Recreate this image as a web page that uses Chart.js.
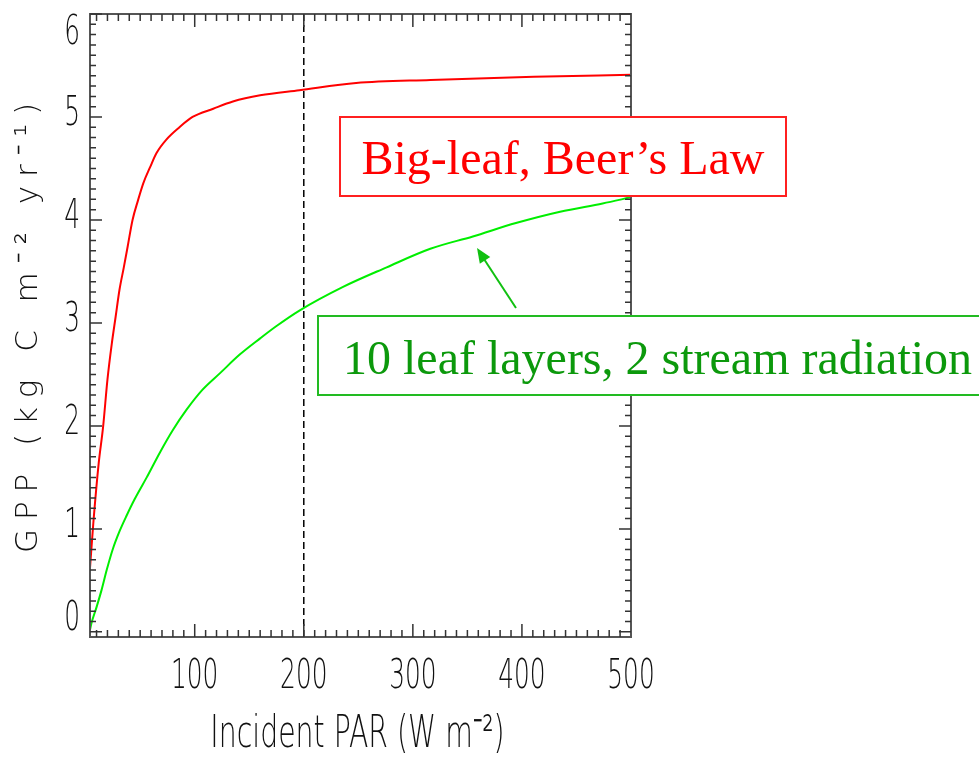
<!DOCTYPE html>
<html>
<head>
<meta charset="utf-8">
<script src="https://cdn.jsdelivr.net/npm/chart.js@4.4.1/dist/chart.umd.min.js"></script>
<style>
  body { margin: 0; background: #fff; }
  #chart { display: block; }
</style>
</head>
<body>
<canvas id="chart" width="979" height="759"></canvas>
<script>
// data
var bigLeafPar = [4, 7, 12, 16, 20, 24, 27.5, 31, 35, 38.5, 43, 48, 53, 59, 65, 74, 86, 98, 117, 135, 160, 196, 248, 316, 411, 500];
var bigLeafGpp = [0.62, 1.05, 1.64, 1.99, 2.45, 2.8, 3.06, 3.32, 3.54, 3.74, 4.0, 4.19, 4.36, 4.51, 4.65, 4.78, 4.9, 5.0, 5.08, 5.15, 5.21, 5.26, 5.33, 5.36, 5.39, 5.41];
var layersPar = [4, 5.5, 10, 14.7, 19.3, 24.8, 31.2, 37.6, 45, 56, 68, 80, 92.7, 107, 123, 141, 160, 175, 196, 236, 276, 316, 355, 394.5, 435, 474, 500];
var layersGpp = [0.02, 0.09, 0.24, 0.41, 0.6, 0.8, 0.98, 1.13, 1.29, 1.5, 1.74, 1.96, 2.16, 2.35, 2.51, 2.69, 2.85, 2.97, 3.12, 3.35, 3.54, 3.72, 3.84, 3.97, 4.08, 4.16, 4.22];
var refPar = 200;
var xTicks = [100, 200, 300, 400, 500];
var yTicks = [0, 1, 2, 3, 4, 5, 6];
var xMin = 4, xMax = 500, yMin = -0.05, yMax = 6;

var bigLeafLabel = 'Big-leaf, Beer\u2019s Law';
var layersLabel = '10 leaf layers, 2 stream radiation';
var xTitle = 'Incident PAR (W m\u207B\u00B2)';
var yTitle = 'GPP (kg C m\u207B\u00B2 yr\u207B\u00B9)';

var axisFont = "'DejaVu Sans', sans-serif";

function toPoints(xs, ys) {
  var pts = [];
  for (var i = 0; i < xs.length; i++) {
    pts.push({x: xs[i], y: ys[i]});
  }
  return pts;
}

// narrow text, the old plot used a thin condensed vector font
function narrowText(ctx, text, x, y, align, squeeze) {
  ctx.save();
  ctx.translate(x, y);
  ctx.scale(squeeze, 1);
  ctx.textAlign = align;
  ctx.fillText(text, 0, 0);
  ctx.restore();
}

// frame with inward ticks, like the old IDL plot
var framePlugin = {
  id: 'frame',
  afterDatasetsDraw: function(chart) {
    var ctx = chart.ctx;
    var a = chart.chartArea;
    var xs = chart.scales.x;
    var ys = chart.scales.y;
    ctx.save();
    ctx.strokeStyle = '#555';
    ctx.lineWidth = 2;
    ctx.strokeRect(a.left, a.top, a.right - a.left, a.bottom - a.top);
    ctx.strokeStyle = '#333';
    ctx.lineWidth = 1.5;
    ctx.beginPath();
    for (var v = 10; v < xMax; v += 10) {
      var px = xs.getPixelForValue(v);
      var len = (v % 100 === 0) ? 13 : 7;
      ctx.moveTo(px, a.bottom); ctx.lineTo(px, a.bottom - len);
      ctx.moveTo(px, a.top); ctx.lineTo(px, a.top + len);
    }
    for (var k = 0; k <= 60; k++) {
      var py = ys.getPixelForValue(k / 10);
      var l = (k % 10 === 0) ? 12 : 6;
      ctx.moveTo(a.left, py); ctx.lineTo(a.left + l, py);
      ctx.moveTo(a.right, py); ctx.lineTo(a.right - l, py);
    }
    ctx.stroke();
    ctx.restore();
  },
  afterDraw: function(chart) {
    var ctx = chart.ctx;
    var a = chart.chartArea;
    var xs = chart.scales.x;
    var ys = chart.scales.y;

    // tick labels and titles
    ctx.save();
    ctx.fillStyle = '#111';
    ctx.textBaseline = 'middle';
    ctx.font = "200 40px " + axisFont;
    xs.ticks.forEach(function(t) {
      narrowText(ctx, String(t.value), xs.getPixelForValue(t.value), 678, 'center', 0.62);
    });
    ys.ticks.forEach(function(t) {
      // end labels are kept inside the frame, as in the original
      var py = Math.min(Math.max(ys.getPixelForValue(t.value) - 2, a.top + 20), a.bottom - 17);
      narrowText(ctx, String(t.value), 80, py, 'right', 0.62);
    });
    ctx.textBaseline = 'alphabetic';
    ctx.font = "200 45px " + axisFont;
    narrowText(ctx, xTitle, (a.left + a.right) / 2 - 3, 747, 'center', 0.63);

    // y title, letter spaced
    ctx.translate(29, 328);
    ctx.rotate(-Math.PI / 2);
    ctx.font = "200 31px " + axisFont;
    var w0 = ctx.measureText(yTitle).width;
    var sp = (450 - w0) / (yTitle.length - 1);
    ctx.letterSpacing = sp + 'px';
    ctx.textAlign = 'center';
    ctx.textBaseline = 'middle';
    ctx.fillText(yTitle, sp / 2, 0);
    ctx.restore();

    ctx.save();
    // red label box
    ctx.fillStyle = '#fff';
    ctx.fillRect(340, 117, 446, 79);
    ctx.strokeStyle = '#ff2020';
    ctx.lineWidth = 2;
    ctx.strokeRect(340, 117, 446, 79);
    ctx.font = "48px 'Liberation Serif', 'Times New Roman', serif";
    ctx.fillStyle = '#ff0000';
    ctx.textAlign = 'center';
    ctx.textBaseline = 'alphabetic';
    ctx.fillText(bigLeafLabel, 563, 174);

    // green arrow
    ctx.strokeStyle = '#11c011';
    ctx.fillStyle = '#11c011';
    ctx.lineWidth = 2;
    ctx.beginPath();
    ctx.moveTo(516, 308);
    ctx.lineTo(482, 256);
    ctx.stroke();
    var ang = Math.atan2(248 - 308, 477 - 516);
    ctx.beginPath();
    ctx.moveTo(477, 248);
    ctx.lineTo(477 - 16 * Math.cos(ang - 0.4), 248 - 16 * Math.sin(ang - 0.4));
    ctx.lineTo(477 - 16 * Math.cos(ang + 0.4), 248 - 16 * Math.sin(ang + 0.4));
    ctx.closePath();
    ctx.fill();

    // green label box
    ctx.fillStyle = '#fff';
    ctx.fillRect(318, 316, 680, 79);
    ctx.strokeStyle = '#22bb22';
    ctx.strokeRect(318, 316, 680, 79);
    ctx.fillStyle = '#0c990c';
    ctx.textAlign = 'left';
    ctx.fillText(layersLabel, 343, 374);
    ctx.restore();
  }
};

var ctx = document.getElementById('chart').getContext('2d');
var gppChart = new Chart(ctx, {
  type: 'line',
  data: {
    datasets: [
      {
        label: 'Big-leaf',
        data: toPoints(bigLeafPar, bigLeafGpp),
        borderColor: '#ff0000',
        borderWidth: 2,
        pointRadius: 0,
        cubicInterpolationMode: 'monotone'
      },
      {
        label: '10 layers',
        data: toPoints(layersPar, layersGpp),
        borderColor: '#00ee00',
        borderWidth: 2,
        pointRadius: 0,
        cubicInterpolationMode: 'monotone'
      },
      {
        label: 'ref',
        data: [{x: refPar, y: yMin}, {x: refPar, y: yMax}],
        borderColor: '#000',
        borderWidth: 1.5,
        borderDash: [7, 4],
        pointRadius: 0
      }
    ]
  },
  options: {
    responsive: false,
    animation: false,
    layout: { padding: { top: 14, right: 348, left: 0, bottom: 0 } },
    plugins: { legend: { display: false }, tooltip: { enabled: false } },
    scales: {
      x: {
        type: 'linear',
        min: xMin,
        max: xMax,
        afterBuildTicks: function(scale) {
          scale.ticks = xTicks.map(function(v) { return {value: v}; });
        },
        afterFit: function(scale) {
          scale.height = 122;
          scale.paddingLeft = 0;
          scale.paddingRight = 0;
        },
        grid: { display: false },
        border: { display: false },
        ticks: { display: false }
      },
      y: {
        type: 'linear',
        min: yMin,
        max: yMax,
        afterBuildTicks: function(scale) {
          scale.ticks = yTicks.map(function(v) { return {value: v}; });
        },
        afterFit: function(scale) {
          scale.width = 90;
          scale.paddingTop = 0;
          scale.paddingBottom = 0;
        },
        grid: { display: false },
        border: { display: false },
        ticks: { display: false }
      }
    }
  },
  plugins: [framePlugin]
});
</script>
</body>
</html>
